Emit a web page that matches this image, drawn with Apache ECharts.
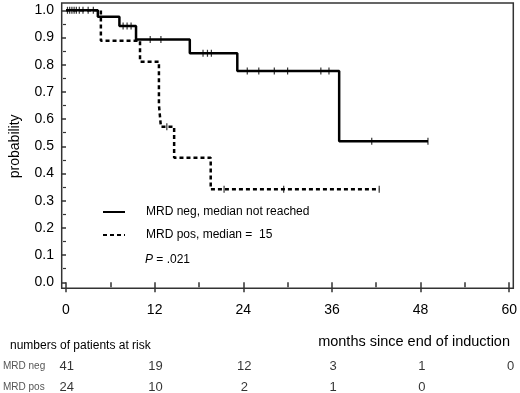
<!DOCTYPE html>
<html>
<head>
<meta charset="utf-8">
<script src="https://cdn.jsdelivr.net/npm/echarts@6/dist/echarts.min.js"></script>
<style>
  html, body { margin: 0; padding: 0; background: #fff; }
  #chart { width: 520px; height: 393px; }
</style>
</head>
<body>
<div id="chart"></div>
<script>
// step points of the two survival curves (months, probability)
var negTimes = [0, 4.31, 7.23, 9.48, 16.76, 23.19, 36.98, 49.0]
var negSurv = [1, 0.976, 0.942, 0.893, 0.842, 0.777, 0.519, 0.519]
var posTimes = [0, 4.72, 10.02, 12.58, 12.85, 14.64, 19.59, 42.4]
var posSurv = [1, 0.888, 0.811, 0.652, 0.572, 0.458, 0.342, 0.342]
// censored observations (months)
var negCensor = [0.2, 0.5, 0.8, 1.1, 1.4, 1.8, 2.3, 3.0, 3.7, 7.73, 8.27, 8.81, 11.4, 12.85,
  18.55, 19.15, 19.68, 24.54, 26.1, 28.2, 30.0, 34.5, 35.6, 41.39, 49.0]
var posCensor = [13.65, 21.4, 29.47, 42.4]
// numbers at risk
var riskMonths = [0, 12, 24, 36, 48, 60]
var negAtRisk = [41, 19, 12, 3, 1, 0]
var posAtRisk = [24, 10, 2, 1, 0]
var rowNames = ['MRD neg', 'MRD pos']
var negName = 'MRD neg, median not reached'
var posName = 'MRD pos, median =  15'

function pairs(xs, ys) {
  return xs.map(function (x, i) { return [x, ys[i]] })
}
// survival level at time t, read from the step arrays
function levelAt(xs, ys, t) {
  var v = ys[0]
  for (var i = 0; i < xs.length; i++) { if (xs[i] <= t) v = ys[i] }
  return v
}
function censorPts(cs, xs, ys) {
  return cs.map(function (t) { return [t, levelAt(xs, ys, t)] })
}
function riskPts(counts, row) {
  return counts.map(function (c, i) { return [riskMonths[i], row, c] })
}

var font = 'Liberation Sans, Arial, sans-serif'
var axisColor = '#333'
var chart = echarts.init(document.getElementById('chart'))
chart.setOption({
  animation: false,
  textStyle: { fontFamily: font },
  title: [
    { text: 'months since end of induction', right: 10, top: 334, padding: 0,
      textStyle: { fontSize: 14.5, fontWeight: 'normal', color: '#000' } },
    { text: 'numbers of patients at risk', left: 10, top: 340, padding: 0,
      textStyle: { fontSize: 12, fontWeight: 'normal', color: '#000' } },
    { text: '{i|P} = .021', left: 145, top: 254, padding: 0,
      textStyle: { fontSize: 12, fontWeight: 'normal', color: '#000',
        rich: { i: { fontStyle: 'italic', fontSize: 12, color: '#000' } } } }
  ],
  legend: {
    data: [negName, posName],
    orient: 'vertical', left: 102, top: 206, padding: 0,
    itemWidth: 22, itemHeight: 14, itemGap: 11,
    itemStyle: { opacity: 0 },
    textStyle: { fontSize: 12, color: '#000', padding: [0, 0, 0, 16] }
  },
  grid: [
    { left: 65.7, right: 9.3, top: 10.3, bottom: 110.7 },
    { left: 61.7, right: 6.7, top: 3, bottom: 104.7, show: true,
      borderColor: axisColor, borderWidth: 1.5, z: 0 },
    { left: 65.7, right: 9.3, top: 366.2, height: 21 }
  ],
  xAxis: [
    { type: 'value', gridIndex: 0, min: 0, max: 60, interval: 12, offset: 5.3,
      axisLine: { show: false },
      axisTick: { show: true, length: 10, lineStyle: { color: axisColor, width: 1.5 } },
      minorTick: { show: true, splitNumber: 2, length: 5, lineStyle: { color: axisColor, width: 1.5 } },
      axisLabel: { fontSize: 14, color: '#000', margin: 16 },
      splitLine: { show: false } },
    { type: 'value', gridIndex: 1, show: false },
    { type: 'value', gridIndex: 2, min: 0, max: 60, show: false }
  ],
  yAxis: [
    { type: 'value', gridIndex: 0, min: 0, max: 1, interval: 0.1, offset: 4,
      name: 'probability', nameLocation: 'middle', nameGap: 40,
      nameTextStyle: { fontSize: 14, color: '#000' },
      axisLine: { show: false },
      axisTick: { show: true, length: 5, lineStyle: { color: axisColor, width: 1.5 } },
      minorTick: { show: true, splitNumber: 2, length: 3, lineStyle: { color: axisColor, width: 1.2 } },
      axisLabel: { fontSize: 14, color: '#000', margin: 8,
        formatter: function (v) { return v.toFixed(1) } },
      splitLine: { show: false } },
    { type: 'value', gridIndex: 1, show: false },
    { type: 'category', gridIndex: 2, data: rowNames, inverse: true, boundaryGap: false,
      axisLine: { show: false }, axisTick: { show: false },
      axisLabel: { fontSize: 10, color: '#555', align: 'left', margin: 63.7 } }
  ],
  series: [
    { name: negName, type: 'line', step: 'end', xAxisIndex: 0, yAxisIndex: 0,
      data: pairs(negTimes, negSurv), symbol: 'none', z: 3,
      lineStyle: { color: '#000', width: 2.5 }, itemStyle: { color: '#000' } },
    { name: posName, type: 'line', step: 'end', xAxisIndex: 0, yAxisIndex: 0,
      data: pairs(posTimes, posSurv), symbol: 'none', z: 2,
      lineStyle: { color: '#000', width: 2.5, type: [4, 3] }, itemStyle: { color: '#000' } },
    { type: 'scatter', xAxisIndex: 0, yAxisIndex: 0, data: censorPts(negCensor, negTimes, negSurv),
      symbol: 'rect', symbolSize: [1.2, 7], itemStyle: { color: '#000' }, z: 4, silent: true },
    { type: 'scatter', xAxisIndex: 0, yAxisIndex: 0, data: censorPts(posCensor, posTimes, posSurv),
      symbol: 'rect', symbolSize: [1.2, 7], itemStyle: { color: '#000' }, z: 4, silent: true },
    { type: 'scatter', xAxisIndex: 2, yAxisIndex: 2, data: riskPts(negAtRisk, rowNames[0]),
      symbolSize: 0, silent: true,
      label: { show: true, position: 'inside', fontSize: 13, color: '#000',
        formatter: function (p) { return p.value[2] } } },
    { type: 'scatter', xAxisIndex: 2, yAxisIndex: 2, data: riskPts(posAtRisk, rowNames[1]),
      symbolSize: 0, silent: true,
      label: { show: true, position: 'inside', fontSize: 13, color: '#000',
        formatter: function (p) { return p.value[2] } } }
  ]
})
</script>
</body>
</html>
